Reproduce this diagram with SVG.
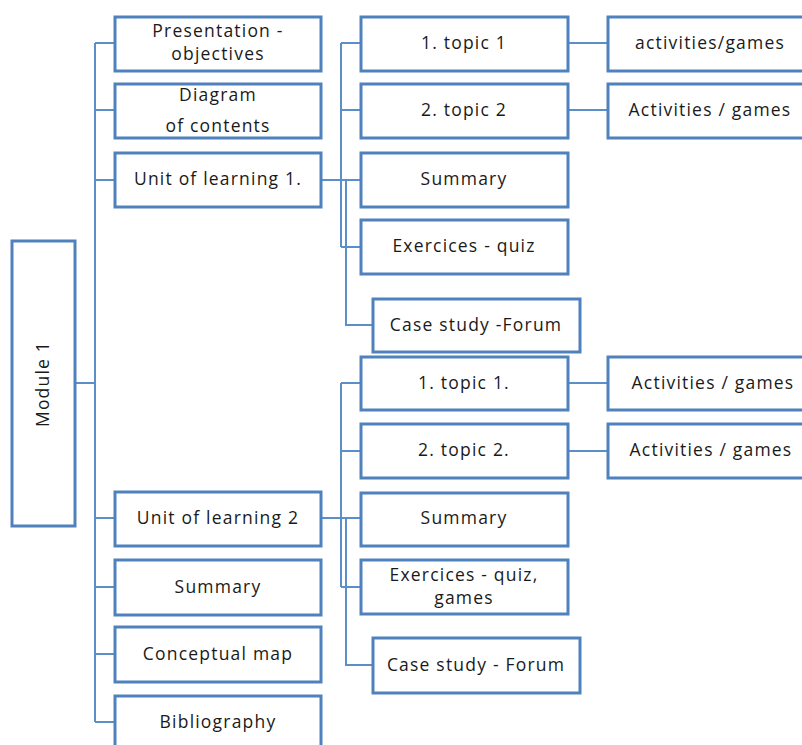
<svg xmlns="http://www.w3.org/2000/svg" width="802" height="745" viewBox="0 0 802 745">
<style>
.box{fill:#fff;stroke:#4f81bd;stroke-width:3}
.ln{fill:none;stroke:#5b8fc9;stroke-width:2}
text{font-family:"Open Sans","Noto Sans",sans-serif;font-size:17.5px;letter-spacing:1.2px;fill:#1a1a1a;text-anchor:middle}
</style>
<rect width="802" height="745" fill="#fff"/>
<g id="connectors">
<path class="ln" d="M75,383 H95 M95,43 V722 M95,43 H115 M95,110 H115 M95,180 H115 M95,518 H115 M95,587 H115 M95,654 H115 M95,722 H115"/>
<path class="ln" d="M321,180 H361 M341,43 V247 M341,43 H361 M341,110 H361 M341,247 H361 M346,180 V325 H373"/>
<path class="ln" d="M321,518 H361 M341,383 V587 M341,383 H361 M341,451 H361 M341,587 H361 M346,518 V665 H373"/>
<path class="ln" d="M568,43 H608 M568,110 H608 M568,383 H608 M568,451 H608"/>
</g>
<g id="module1"><rect class="box" x="12" y="241" width="63" height="285"/><text transform="translate(49,384) rotate(-90)">Module 1</text></g>
<g id="presentation"><rect class="box" x="115" y="17" width="206" height="54"/><text x="218" y="37">Presentation -</text><text x="218" y="60">objectives</text></g>
<g id="diagram"><rect class="box" x="115" y="84" width="206" height="54"/><text x="218" y="101">Diagram</text><text x="218" y="132">of contents</text></g>
<g id="unit1"><rect class="box" x="115" y="153" width="206" height="54"/><text x="218" y="185">Unit of learning 1.</text></g>
<g id="unit2"><rect class="box" x="115" y="492" width="206" height="54"/><text x="218" y="524">Unit of learning 2</text></g>
<g id="summary"><rect class="box" x="115" y="560" width="206" height="55"/><text x="218" y="593">Summary</text></g>
<g id="conceptual"><rect class="box" x="115" y="627" width="206" height="55"/><text x="218" y="660">Conceptual map</text></g>
<g id="bibliography"><rect class="box" x="115" y="696" width="206" height="60"/><text x="218" y="728">Bibliography</text></g>
<g id="u1topic1"><rect class="box" x="361" y="17" width="207" height="54"/><text x="464" y="49">1. topic 1</text></g>
<g id="u1topic2"><rect class="box" x="361" y="84" width="207" height="54"/><text x="464" y="116">2. topic 2</text></g>
<g id="u1summary"><rect class="box" x="361" y="153" width="207" height="54"/><text x="464" y="185">Summary</text></g>
<g id="u1exercises"><rect class="box" x="361" y="220" width="207" height="54"/><text x="464" y="252">Exercices - quiz</text></g>
<g id="u1case"><rect class="box" x="373" y="299" width="207" height="53"/><text x="476" y="331">Case study -Forum</text></g>
<g id="u2topic1"><rect class="box" x="361" y="357" width="207" height="53"/><text x="464" y="389">1. topic 1.</text></g>
<g id="u2topic2"><rect class="box" x="361" y="424" width="207" height="54"/><text x="464" y="456">2. topic 2.</text></g>
<g id="u2summary"><rect class="box" x="361" y="493" width="207" height="53"/><text x="464" y="524">Summary</text></g>
<g id="u2exercises"><rect class="box" x="361" y="560" width="207" height="54"/><text x="464" y="581">Exercices - quiz,</text><text x="464" y="604">games</text></g>
<g id="u2case"><rect class="box" x="373" y="638" width="207" height="55"/><text x="476" y="671">Case study - Forum</text></g>
<g id="act1"><rect class="box" x="608" y="17" width="210" height="54"/><text x="710" y="49">activities/games</text></g>
<g id="act2"><rect class="box" x="608" y="84" width="210" height="54"/><text x="710" y="116">Activities / games</text></g>
<g id="act3"><rect class="box" x="608" y="357" width="210" height="53"/><text x="713" y="389">Activities / games</text></g>
<g id="act4"><rect class="box" x="608" y="424" width="210" height="54"/><text x="711" y="456">Activities / games</text></g>
</svg>
